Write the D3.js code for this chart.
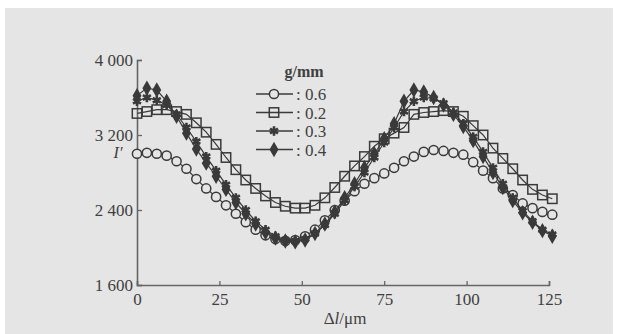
<!DOCTYPE html>
<html>
<head>
<meta charset="utf-8">
<script src="https://cdn.jsdelivr.net/npm/d3@7"></script>
<style>
  body { margin: 0; background: #fff; }
  svg text { font-family: "Liberation Serif", "DejaVu Serif", serif; fill: #404040; }
</style>
</head>
<body>
<div id="chart"></div>
<script>
// displacement, µm
const dl = [0, 3, 6, 9, 12, 15, 18, 21, 24, 27, 30, 33, 36, 39, 42, 45, 48, 51, 54, 57, 60,
            63, 66, 69, 72, 75, 78, 81, 84, 87, 90, 93, 96, 99, 102, 105, 108, 111, 114, 117, 120, 123, 126];

const s06 = [3000, 3010, 3000, 2980, 2920, 2840, 2730, 2630, 2540, 2450, 2360, 2270, 2190, 2130, 2090, 2070, 2080,
             2120, 2190, 2290, 2400, 2500, 2600, 2680, 2740, 2790, 2850, 2920, 2970, 3020, 3040, 3030, 3010, 2990,
             2910, 2820, 2740, 2630, 2560, 2470, 2420, 2380, 2350];
const s02 = [3430, 3450, 3470, 3470, 3450, 3420, 3330, 3230, 3100, 2960, 2830, 2720, 2630, 2550, 2480, 2440, 2420,
             2420, 2450, 2530, 2640, 2760, 2870, 2970, 3080, 3160, 3220, 3280, 3420, 3440, 3450, 3460, 3450, 3400,
             3300, 3200, 3060, 2950, 2840, 2720, 2620, 2560, 2520];
const s03 = [3560, 3600, 3570, 3520, 3420, 3280, 3130, 2970, 2820, 2670, 2530, 2400, 2280, 2190, 2120, 2080, 2070,
             2090, 2150, 2240, 2360, 2500, 2650, 2800, 2960, 3120, 3280, 3450, 3560, 3600, 3590, 3540, 3440, 3320,
             3180, 3020, 2850, 2680, 2530, 2390, 2280, 2190, 2140];
const s04 = [3620, 3700, 3680, 3560, 3400, 3220, 3050, 2900, 2760, 2620, 2480, 2360, 2250, 2160, 2100, 2070, 2060,
             2080, 2150, 2250, 2380, 2530, 2680, 2850, 3000, 3160, 3320, 3560, 3680, 3660, 3600, 3520, 3420, 3290,
             3140, 2970, 2800, 2640, 2500, 2370, 2270, 2180, 2120];

const xTicks = [0, 25, 50, 75, 100, 125];
const yTicks = [1600, 2400, 3200, 4000];
const yTickLabels = ["1 600", "2 400", "3 200", "4 000"];
const legendLabels = [": 0.6", ": 0.2", ": 0.3", ": 0.4"];

const width = 617, height = 334;
const ink = "#3a3a3a";
const paper = "#e5e5e5";

const svg = d3.select("#chart").append("svg")
  .attr("width", width)
  .attr("height", height);

// scanned page background
svg.append("rect")
  .attr("x", 5).attr("y", 8)
  .attr("width", width - 9).attr("height", height - 8)
  .attr("fill", paper);

const x = d3.scaleLinear().domain([0, 125]).range([137, 549]);
const y = d3.scaleLinear().domain([1600, 4000]).range([285, 60]);

// axes
const xAxis = svg.append("g")
  .attr("transform", "translate(0,285)")
  .call(d3.axisBottom(x).tickValues(xTicks).tickSize(-4).tickPadding(8));
const yAxis = svg.append("g")
  .attr("transform", "translate(137,0)")
  .call(d3.axisLeft(y).tickValues(yTicks).tickSize(-5).tickPadding(4)
    .tickFormat((d, i) => yTickLabels[i]));

[xAxis, yAxis].forEach(g => {
  g.select(".domain").attr("stroke", "#666").attr("stroke-width", 1.6);
  g.selectAll(".tick line").attr("stroke", "#666").attr("stroke-width", 1.3);
  g.selectAll(".tick text").attr("font-size", 17).attr("fill", "#404040")
    .attr("font-family", "Liberation Serif, DejaVu Serif, serif");
});

// axis titles
svg.append("text")
  .attr("x", 345).attr("y", 324)
  .attr("text-anchor", "middle")
  .attr("font-size", 17)
  .html('Δ<tspan font-style="italic">l</tspan>/μm');

svg.append("text")
  .attr("x", 118).attr("y", 158)
  .attr("text-anchor", "middle")
  .attr("font-size", 16)
  .attr("font-style", "italic")
  .text("I′");

const series = [
  { vals: s06, shape: "circle" },
  { vals: s02, shape: "square" },
  { vals: s03, shape: "star" },
  { vals: s04, shape: "dot" }
];

const line = d3.line()
  .x(d => x(d[0]))
  .y(d => y(d[1]));

function drawMarker(g, shape, cx, cy) {
  if (shape === "circle") {
    g.append("circle").attr("cx", cx).attr("cy", cy).attr("r", 4.6)
      .attr("fill", paper).attr("stroke", ink).attr("stroke-width", 1.5);
  } else if (shape === "square") {
    g.append("rect").attr("x", cx - 4.7).attr("y", cy - 4.7).attr("width", 9.4).attr("height", 9.4)
      .attr("fill", "none").attr("stroke", ink).attr("stroke-width", 1.5);
  } else if (shape === "star") {
    g.append("path").attr("transform", `translate(${cx},${cy})`)
      .attr("d", d3.symbol().type(d3.symbolAsterisk).size(60)())
      .attr("fill", "none").attr("stroke", ink).attr("stroke-width", 2.6);
  } else {
    g.append("path").attr("transform", `translate(${cx},${cy})`)
      .attr("d", d3.symbol().type(d3.symbolDiamond).size(38)())
      .attr("fill", ink).attr("stroke", ink).attr("stroke-width", 2);
  }
}

// draw order: circles, squares, stars, filled on top
series.forEach(s => {
  const pts = dl.map((d, i) => [d, s.vals[i]]);
  const g = svg.append("g");
  g.append("path").attr("d", line(pts))
    .attr("fill", "none").attr("stroke", ink).attr("stroke-width", 1.2);
  pts.forEach(p => drawMarker(g, s.shape, x(p[0]), y(p[1])));
});

// legend
const legend = svg.append("g");
legend.append("text")
  .attr("x", 304).attr("y", 77)
  .attr("text-anchor", "middle")
  .attr("font-size", 16)
  .attr("font-weight", "bold")
  .text("g/mm");

series.forEach((s, i) => {
  const ly = 94 + i * 18.5;
  legend.append("line")
    .attr("x1", 256).attr("x2", 293)
    .attr("y1", ly).attr("y2", ly)
    .attr("stroke", ink).attr("stroke-width", 1.4);
  drawMarker(legend, s.shape, 274, ly);
  legend.append("text")
    .attr("x", 296).attr("y", ly + 6)
    .attr("font-size", 17)
    .text(legendLabels[i]);
});
</script>
</body>
</html>
